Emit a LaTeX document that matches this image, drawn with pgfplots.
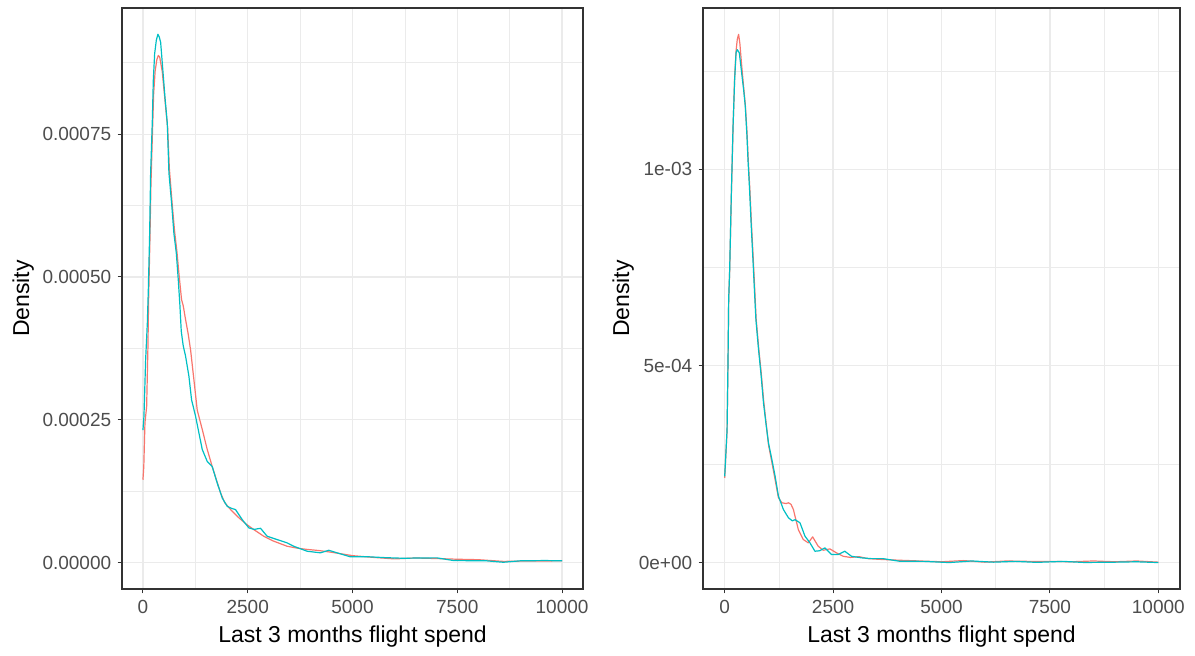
\documentclass[border=0pt]{standalone}
\usepackage{fontspec}
\setmainfont{Liberation Sans}
\usepackage{pgfplots}
\pgfplotsset{compat=1.18}
\definecolor{ggred}{HTML}{F8766D}
\definecolor{ggcyan}{HTML}{00BFC4}
\definecolor{gridc}{HTML}{EBEBEB}
\definecolor{framec}{HTML}{333333}
\definecolor{tickc}{HTML}{4D4D4D}
\pgfplotsset{ggstyle/.style={
  scale only axis,
  axis line style={framec, line width=0.55pt},
  grid=both,
  major grid style={gridc, line width=0.6pt},
  minor grid style={gridc, line width=0.35pt},
  tick align=outside,
  tick style={framec, line width=0.5pt},
  major tick length=2.2pt, minor tick length=0pt,
  xtick pos=bottom, ytick pos=left,
  ticklabel style={font=\fontsize{9.5}{11}\selectfont, text=tickc},
  label style={font=\fontsize{11.5}{14}\selectfont},
  xmin=-500, xmax=10500,
  xtick={0,2500,5000,7500,10000},
  minor xtick={1250,3750,6250,8750},
  xticklabels={0,2500,5000,7500,10000},
  scaled ticks=false,
  xlabel={Last 3 months flight spend}, ylabel={Density},
  xticklabel style={anchor=base, yshift=-10pt},
  yticklabel style={anchor=east, inner sep=0pt, xshift=-3pt},
  every axis plot/.append style={line width=0.6pt, mark=none, line join=round},
  /pgf/number format/assume math mode=true,
}}
\begin{document}
\begin{tikzpicture}
\path[use as bounding box] (0,0) rectangle (597.5pt,328pt);
% Left panel
\begin{axis}[ggstyle,
  at={(61pt,33.5pt)}, anchor=south west,
  width=230.5pt, height=290.5pt,
  ymin=-0.0000463, ymax=0.000971,
  ytick={0,0.00025,0.0005,0.00075},
  yticklabels={0.00000,0.00025,0.00050,0.00075},
  minor ytick={0.000125,0.000375,0.000625,0.000875},
  xlabel style={at={(axis description cs:0.5,-0.0929)}, anchor=base},
  ylabel style={at={(axis description cs:-0.2017,0.5)}, anchor=base},
]
\addplot[ggred] coordinates {
(0,0.000145) (20,0.000168) (48,0.000245) (88,0.000273) (119,0.000378) (135,0.000460)
(165,0.000560) (190,0.000660) (230,0.000760) (255,0.000820) (290,0.000860) (330,0.000880)
(367,0.000888) (400,0.000885) (460,0.000860) (525,0.000810) (590,0.000760) (630,0.000690)
(695,0.000630) (755,0.000580) (810,0.000545) (860,0.000505) (898,0.000477) (922,0.000460)
(960,0.000450) (1018,0.000425) (1080,0.000400) (1137,0.000372) (1216,0.000320) (1295,0.000267)
(1415,0.000233) (1534,0.000198) (1653,0.000168) (1773,0.000140) (1852,0.000122) (1950,0.000105)
(2100,0.0000920) (2249,0.0000810) (2450,0.0000680) (2646,0.0000577) (2884,0.0000460) (3100,0.0000380)
(3441,0.0000285) (3700,0.0000250) (3917,0.0000230) (4200,0.0000210) (4500,0.0000180) (5010,0.0000120)
(5500,0.0000090) (6000,0.0000064) (6500,0.0000080) (7000,0.0000070) (7500,0.0000058) (8000,0.0000050)
(8600,0.0000020) (9000,0.0000025) (10000,0.0000030)
};
\addplot[ggcyan] coordinates {
(0,0.000232) (24,0.000256) (64,0.000355) (105,0.000420) (128,0.000477) (160,0.000576)
(183,0.000681) (224,0.000774) (247,0.000844) (279,0.000891) (320,0.000915) (357,0.000925)
(390,0.000920) (422,0.000911) (462,0.000874) (525,0.000815) (581,0.000769) (620,0.000682)
(684,0.000629) (739,0.000576) (796,0.000542) (843,0.000495) (882,0.000450) (914,0.000405)
(960,0.000380) (1018,0.000361) (1097,0.000326) (1160,0.000285) (1256,0.000256) (1335,0.000227)
(1415,0.000198) (1534,0.000177) (1653,0.000168) (1773,0.000139) (1892,0.000113) (2011,0.0000984)
(2110,0.0000950) (2209,0.0000927) (2368,0.0000752) (2527,0.0000607) (2650,0.0000580) (2805,0.0000600)
(2964,0.0000460) (3202,0.0000402) (3441,0.0000344) (3600,0.0000285) (3917,0.0000198) (4235,0.0000170)
(4433,0.0000215) (4632,0.0000170) (4950,0.0000100) (5400,0.0000100) (5800,0.0000085) (6220,0.0000075)
(6600,0.0000080) (7015,0.0000082) (7412,0.0000035) (8200,0.0000030) (8600,0.0000005) (9000,0.0000030)
(9600,0.0000035) (10000,0.0000030)
};
\end{axis}
% Right panel
\begin{axis}[ggstyle,
  at={(351.5pt,33.5pt)}, anchor=south west,
  width=238.5pt, height=290.5pt,
  ymin=-0.0000672, ymax=0.00141,
  ytick={0,0.0005,0.001},
  yticklabels={0e+00,5e-04,1e-03},
  minor ytick={0.00025,0.00075,0.00125},
  xlabel style={at={(axis description cs:0.5,-0.0929)}, anchor=base},
  ylabel style={at={(axis description cs:-0.1551,0.5)}, anchor=base},
]
\addplot[ggred] coordinates {
(0,0.000215) (16,0.000250) (55,0.000335) (78,0.000520) (92,0.000665) (115,0.000740)
(154,0.000935) (193,0.001105) (230,0.001235) (262,0.001300) (290,0.001330) (321,0.001343)
(350,0.001320) (383,0.001275) (436,0.001210) (475,0.001165) (514,0.001095) (545,0.001020)
(580,0.000950) (620,0.000855) (660,0.000770) (695,0.000690) (725,0.000620) (785,0.000545)
(840,0.000485) (900,0.000410) (955,0.000355) (1010,0.000300) (1088,0.000255) (1164,0.000210)
(1239,0.000165) (1317,0.000152) (1420,0.000150) (1469,0.000152) (1530,0.000148) (1584,0.000135)
(1698,0.0000839) (1813,0.0000585) (1928,0.0000500) (2028,0.0000653) (2157,0.0000415) (2272,0.0000313)
(2426,0.0000347) (2579,0.0000246) (2731,0.0000160) (2900,0.0000130) (3100,0.0000150) (3300,0.0000100)
(3600,0.0000080) (4000,0.0000060) (4500,0.0000040) (5000,0.0000020) (5500,0.0000050) (6000,0.0000010)
(6500,0.0000040) (7000,0.0000030) (7500,0.0000030) (8000,0.0000020) (8500,0.0000040) (9000,0.0000020)
(9500,0.0000040) (10000,0.0000010)
};
\addplot[ggcyan] coordinates {
(0,0.000219) (16,0.000253) (55,0.000338) (78,0.000525) (92,0.000669) (115,0.000745)
(154,0.000940) (193,0.001110) (230,0.001228) (262,0.001296) (291,0.001304) (337,0.001296)
(383,0.001253) (436,0.001203) (475,0.001160) (514,0.001084) (537,0.001025) (574,0.000948)
(613,0.000855) (652,0.000770) (689,0.000686) (720,0.000618) (781,0.000541) (835,0.000482)
(895,0.000406) (950,0.000355) (1010,0.000304) (1088,0.000262) (1164,0.000219) (1239,0.000169)
(1354,0.000135) (1469,0.000114) (1560,0.000106) (1623,0.000109) (1737,0.000101) (1852,0.0000669)
(1967,0.0000500) (2082,0.0000288) (2190,0.0000300) (2311,0.0000373) (2465,0.0000203) (2617,0.0000203)
(2770,0.0000288) (2924,0.0000160) (3153,0.0000120) (3383,0.0000100) (3650,0.0000100) (4033,0.0000033)
(4600,0.0000030) (5180,0.0000000) (5700,0.0000040) (6200,0.0000010) (6700,0.0000030) (7200,0.0000005)
(7800,0.0000030) (8300,0.0000002) (9000,0.0000010) (9500,0.0000020) (10000,0.0000000)
};
\end{axis}
\end{tikzpicture}
\end{document}
